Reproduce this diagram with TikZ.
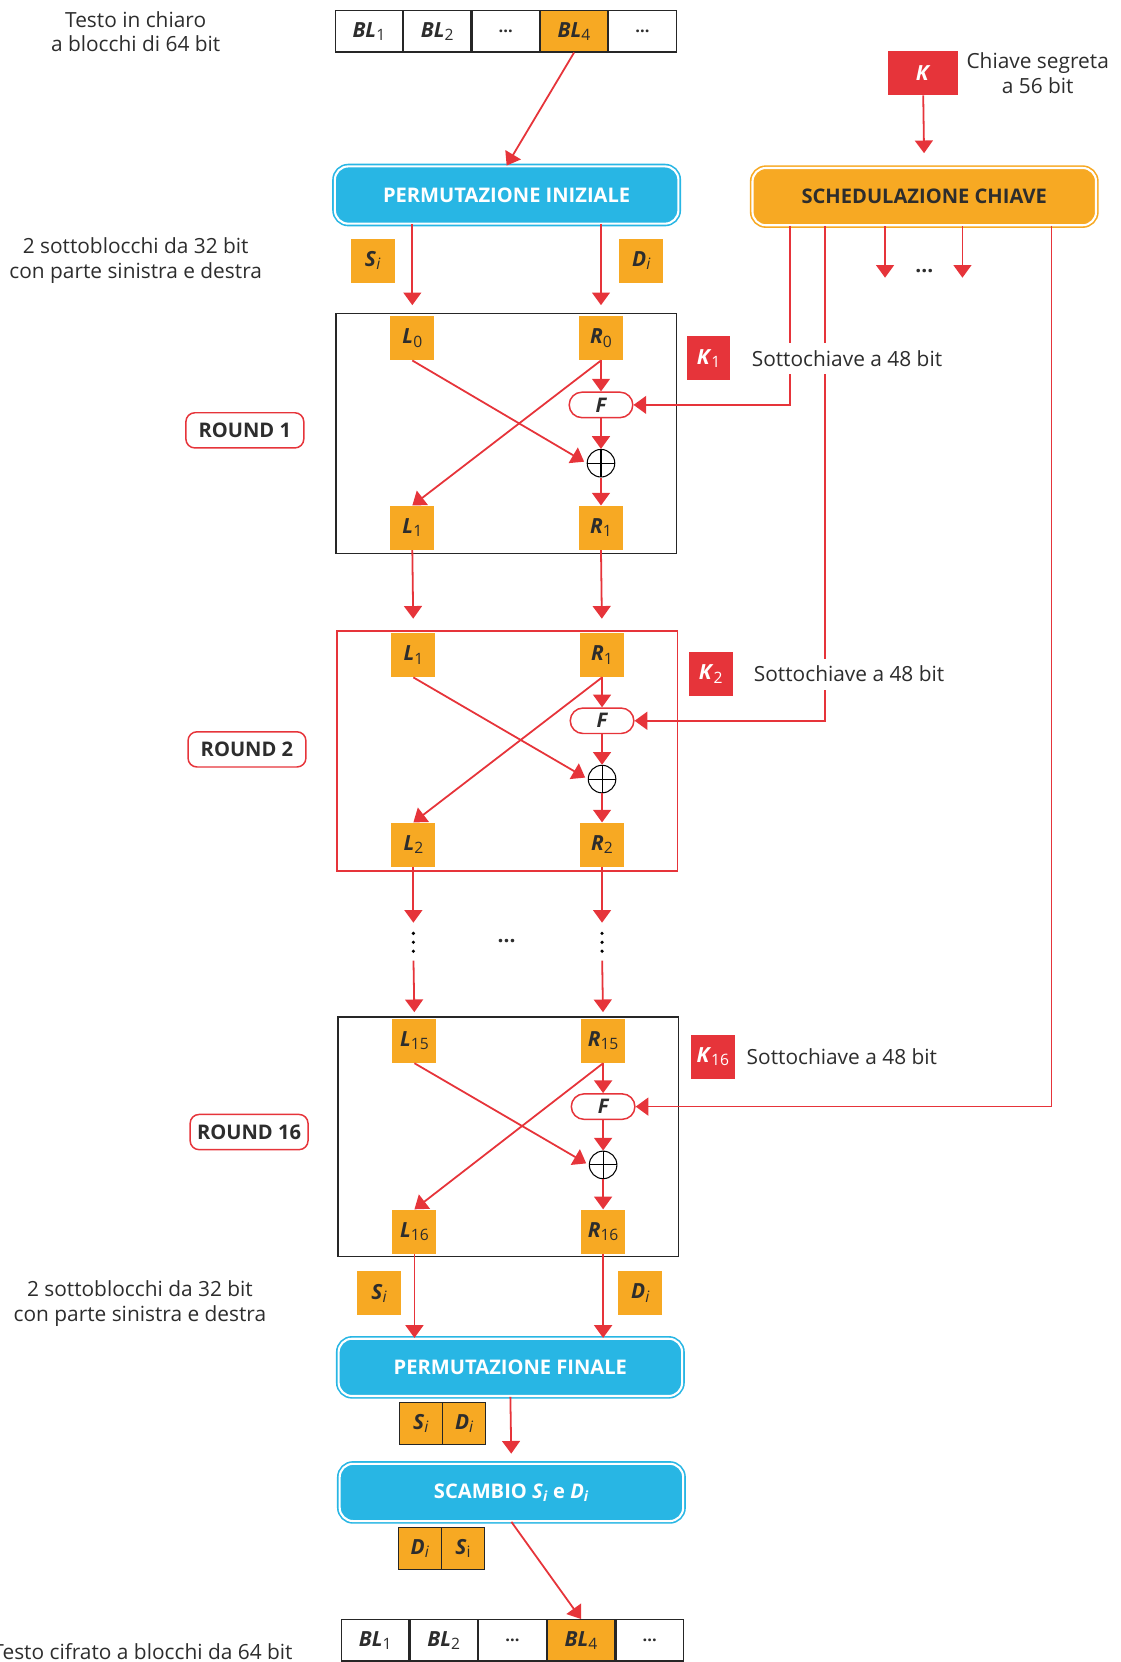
\documentclass[tikz,border=0pt]{standalone}
\usepackage{fontspec}
\setmainfont{Open Sans}
\usepackage{xcolor}
\usepackage{tikz}
\usetikzlibrary{arrows.meta,positioning,shapes.misc}

\definecolor{desorange}{RGB}{247,169,35}
\definecolor{descyan}{RGB}{40,182,228}
\definecolor{desred}{RGB}{230,52,58}
\definecolor{destext}{RGB}{45,45,45}

\newcommand{\lbl}[2]{\textbf{\textit{#1}}\raisebox{-0.3ex}{\fontsize{10.5}{12}\selectfont #2}}

\tikzset{
  arr/.style={desred,line width=1.2pt,-{Triangle[width=12pt,length=8.5pt]}},
  cell/.style={draw=black!85,line width=0.8pt,minimum width=1.585cm,minimum height=0.975cm,inner sep=0pt,font=\fontsize{14}{16}\selectfont},
  half/.style={fill=desorange,minimum size=1.04cm,inner sep=0pt,font=\fontsize{14}{16}\selectfont},
  keyb/.style={fill=desred,text=white,minimum size=1.03cm,inner sep=0pt,font=\fontsize{14}{16}\selectfont},
  perm/.style={fill=descyan,draw=descyan,double=white,double distance=1.4pt,line width=1.1pt,rounded corners=9pt,minimum width=8.1cm,minimum height=1.35cm,text=white,font=\fontsize{13.5}{16}\selectfont\bfseries},
  sched/.style={perm,fill=desorange,draw=desorange,text=destext},
  rndframe/.style={draw=black!85,line width=1pt,minimum width=8.025cm,minimum height=5.65cm,inner sep=0pt},
  fnode/.style={rounded rectangle,draw=desred,line width=1pt,fill=white,minimum width=1.5cm,minimum height=0.6cm,inner sep=0pt,font=\fontsize{13.5}{15}\selectfont\bfseries\itshape},
  xorn/.style={circle,draw=black,line width=0.7pt,minimum size=0.65cm,inner sep=0pt,
    path picture={\draw[line width=0.7pt] (path picture bounding box.north) -- (path picture bounding box.south)
      (path picture bounding box.west) -- (path picture bounding box.east);}},
  rlabel/.style={draw=desred,line width=1pt,rounded corners=6pt,minimum width=2.78cm,minimum height=0.83cm,font=\fontsize{13.5}{16}\selectfont\bfseries},
  subk/.style={fill=white,inner xsep=2pt,inner ysep=5pt},
  vdotnode/.style={minimum width=0.2cm,minimum height=0.55cm,inner sep=0pt,
    path picture={\foreach \d in {-0.21,0,0.21} \fill (path picture bounding box.center) ++(0cm,\d cm) circle (1.2pt);}},
}

\begin{document}
\begin{tikzpicture}[x=0.025cm,y=-0.025cm,text=destext,font=\fontsize{14}{16.5}\selectfont]
  \useasboundingbox (0,0) rectangle (1057,1568);

  % plain text in blocks
  \node[align=center] (intxt) at (128,30) {Testo in chiaro\\a blocchi di 64 bit};
  \node[cell] (tb1) at (348,29.5) {\lbl{BL}{1}};
  \node[cell,right=0pt of tb1] (tb2) {\lbl{BL}{2}};
  \node[cell,right=0pt of tb2] (tb3) {\fontsize{11}{12}\selectfont\bfseries ...};
  \node[cell,fill=desorange,right=0pt of tb3] (tb4) {\lbl{BL}{4}};
  \node[cell,right=0pt of tb4] (tb5) {\fontsize{11}{12}\selectfont\bfseries ...};

  \node[perm] (pi) at (478,184) {PERMUTAZIONE INIZIALE};
  \draw[arr] (tb4.south) -- (pi.north);

  % key and schedule
  \node[keyb,minimum width=1.65cm] (k) at (871,69) {\textbf{\textit{K}}};
  \node[align=center] (ktxt) at (979,69) {Chiave segreta\\a 56 bit};
  \node[sched] (ks) at (872,185.5) {SCHEDULAZIONE CHIAVE};
  \draw[arr,shorten >=0.33cm] (k.south) -- (ks.north);

  \node[align=center] (subtxt1) at (128,246) {2 sottoblocchi da 32 bit\\con parte sinistra e destra};
  \node[half] (si1) at (351.5,246) {\lbl{S}{\itshape i}};
  \node[half] (di1) at (605,246) {\lbl{D}{\itshape i}};

  % round 1
  \node[rndframe] (fr1) at (477.5,409) {};
  \node[half] (l0) at (389,319) {\lbl{L}{0}};
  \node[half] (r0) at (567,319) {\lbl{R}{0}};
  \node[fnode] (f1) at (567,382) {F};
  \node[xorn] (x1) at (567,437) {};
  \node[half] (l1) at (389,498) {\lbl{L}{1}};
  \node[half] (r1) at (567,498) {\lbl{R}{1}};
  \node[rlabel] (rl1) at (231,406) {ROUND 1};
  \draw[arr,shorten >=0.25cm] (pi.south -| l0.north) -- (l0.north);
  \draw[arr,shorten >=0.25cm] (pi.south -| r0.north) -- (r0.north);
  \draw[arr] (r0.south) -- (f1.north);
  \draw[arr] (f1.south) -- (x1.north);
  \draw[arr] (x1.south) -- (r1.north);
  \draw[arr,shorten >=2pt] (l0.south) -- (x1.west);
  \draw[arr] (r0.south) -- (l1.north);

  % round 2
  \node[rndframe,draw=desred] (fr2) at (478.5,708.5) {};
  \node[half] (l1b) at (390,618) {\lbl{L}{1}};
  \node[half] (r1b) at (568,618) {\lbl{R}{1}};
  \node[fnode] (f2) at (568,680) {F};
  \node[xorn] (x2) at (568,735) {};
  \node[half] (l2) at (390,797) {\lbl{L}{2}};
  \node[half] (r2) at (568,797) {\lbl{R}{2}};
  \node[rlabel] (rl2) at (233,707) {ROUND 2};
  \draw[arr,shorten >=0.33cm] (l1.south) -- (l1b.north);
  \draw[arr,shorten >=0.33cm] (r1.south) -- (r1b.north);
  \draw[arr] (r1b.south) -- (f2.north);
  \draw[arr] (f2.south) -- (x2.north);
  \draw[arr] (x2.south) -- (r2.north);
  \draw[arr,shorten >=2pt] (l1b.south) -- (x2.west);
  \draw[arr] (r1b.south) -- (l2.north);

  % rounds in between
  \node[vdotnode] (vdl) at (390,889) {};
  \node[vdotnode] (vdr) at (568,889) {};
  \node (hdots) at (478,888) {\bfseries ...};

  % round 16
  \node[rndframe] (fr16) at (479.5,1072.5) {};
  \node[half] (l15) at (391,982) {\lbl{L}{15}};
  \node[half] (r15) at (569,982) {\lbl{R}{15}};
  \node[fnode] (f16) at (569,1044) {F};
  \node[xorn] (x16) at (569,1099) {};
  \node[half] (l16) at (391,1162) {\lbl{L}{16}};
  \node[half] (r16) at (569,1162) {\lbl{R}{16}};
  \node[rlabel] (rl16) at (235,1068) {ROUND 16};
  \draw[arr,shorten >=0.18cm] (l2.south) -- (vdl.north);
  \draw[arr,shorten >=0.18cm] (r2.south) -- (vdr.north);
  \draw[arr,shorten <=0.15cm,shorten >=0.15cm] (vdl.south) -- (l15.north);
  \draw[arr,shorten <=0.15cm,shorten >=0.15cm] (vdr.south) -- (r15.north);
  \draw[arr] (r15.south) -- (f16.north);
  \draw[arr] (f16.south) -- (x16.north);
  \draw[arr] (x16.south) -- (r16.north);
  \draw[arr,shorten >=2pt] (l15.south) -- (x16.west);
  \draw[arr] (r15.south) -- (l16.north);

  % subkeys
  \coordinate (ka) at (745,213);
  \coordinate (kb) at (778,213);
  \coordinate (kc) at (992,213);
  \coordinate (kd) at (835,262);
  \coordinate (ke) at (908,262);
  \draw[arr] (ka) |- (f1.east);
  \draw[arr] (kb) |- (f2.east);
  \draw[arr] (kc) |- (f16.east);
  \draw[arr] (kd |- ks.south) -- (kd);
  \draw[arr] (ke |- ks.south) -- (ke);
  \node (kdots) at (872,256) {\bfseries ...};
  \node[keyb] (k1) at (668.5,338) {\lbl{K}{1}};
  \node[subk,right=0.42cm of k1] (k1t) {Sottochiave a 48 bit};
  \node[keyb] (k2) at (670.5,636) {\lbl{K}{2}};
  \node[subk,right=0.42cm of k2] (k2t) {Sottochiave a 48 bit};
  \node[keyb] (k16) at (672.5,997) {\lbl{K}{16}};
  \node[subk,right=0.2cm of k16] (k16t) {Sottochiave a 48 bit};

  % final permutation and swap
  \node[align=center] (subtxt2) at (132,1230) {2 sottoblocchi da 32 bit\\con parte sinistra e destra};
  \node[half] (si2) at (357.5,1220) {\lbl{S}{\itshape i}};
  \node[half] (di2) at (604,1220) {\lbl{D}{\itshape i}};
  \node[perm] (pf) at (481.5,1290) {PERMUTAZIONE FINALE};
  \draw[arr] (l16.south) -- (l16.south |- pf.north);
  \draw[arr] (r16.south) -- (r16.south |- pf.north);
  \node[half,draw=black!85,line width=0.6pt,minimum size=1cm] (p1s) at (397,1343) {\lbl{S}{\itshape i}};
  \node[half,draw=black!85,line width=0.6pt,minimum size=1cm,right=0pt of p1s] (p1d) {\lbl{D}{\itshape i}};
  \node[perm] (sc) at (482.5,1408) {SCAMBIO \textit{S}\textsubscript{\itshape i} e \textit{D}\textsubscript{\itshape i}};
  \draw[arr,shorten >=0.22cm] (pf.south) -- (sc.north);
  \node[half,draw=black!85,line width=0.6pt,minimum size=1cm] (p2d) at (396,1461) {\lbl{D}{\itshape i}};
  \node[half,draw=black!85,line width=0.6pt,minimum size=1cm,right=0pt of p2d] (p2s) {\lbl{S}{i}};

  % ciphertext blocks
  \node[anchor=east] (outtxt) at (281,1558) {Testo cifrato a blocchi da 64 bit};
  \node[cell,minimum width=1.59cm] (bb1) at (354,1547.5) {\lbl{BL}{1}};
  \node[cell,minimum width=1.59cm,right=0pt of bb1] (bb2) {\lbl{BL}{2}};
  \node[cell,minimum width=1.59cm,right=0pt of bb2] (bb3) {\fontsize{11}{12}\selectfont\bfseries ...};
  \node[cell,minimum width=1.59cm,fill=desorange,right=0pt of bb3] (bb4) {\lbl{BL}{4}};
  \node[cell,minimum width=1.59cm,right=0pt of bb4] (bb5) {\fontsize{11}{12}\selectfont\bfseries ...};
  \draw[arr] (sc.south) -- (bb4.north);
\end{tikzpicture}
\end{document}
